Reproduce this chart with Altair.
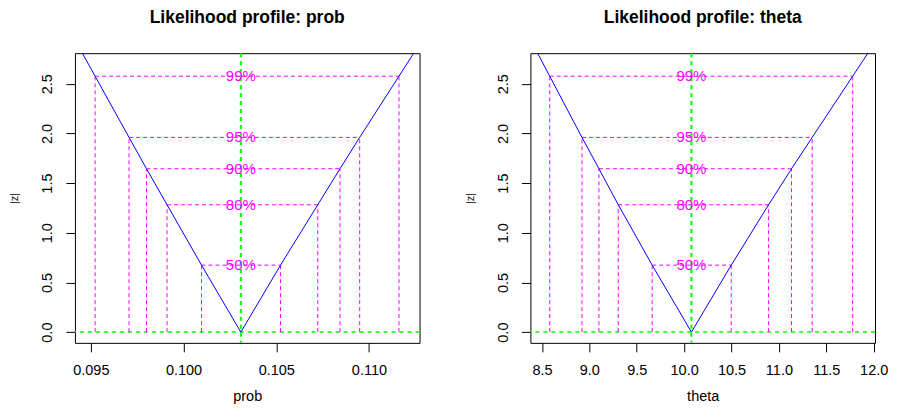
import altair as alt
import pandas as pd

# Confidence levels and their |z| values
levels = ["50%", "80%", "90%", "95%", "99%"]
z_levels = [0.674, 1.282, 1.645, 1.960, 2.576]

# prob panel
prob_mle = 0.10309
prob_lower = [0.10097, 0.09911, 0.09800, 0.09706, 0.09523]
prob_upper = [0.10523, 0.10724, 0.10844, 0.10950, 0.11162]
prob_profile_x = [0.09427, 0.09523, 0.09706, 0.09800, 0.09911, 0.10097, 0.10309,
                  0.10523, 0.10724, 0.10844, 0.10950, 0.11162, 0.11273]
prob_profile_z = [2.9, 2.576, 1.960, 1.645, 1.282, 0.674, 0.0,
                  0.674, 1.282, 1.645, 1.960, 2.576, 2.9]
prob_domain = [0.09414, 0.11273]
prob_ticks = [0.095, 0.100, 0.105, 0.110]

# theta panel
theta_mle = 10.077
theta_lower = [9.663, 9.305, 9.101, 8.922, 8.582]
theta_upper = [10.497, 10.891, 11.133, 11.351, 11.778]
theta_profile_x = [8.403, 8.582, 8.922, 9.101, 9.305, 9.663, 10.077,
                   10.497, 10.891, 11.133, 11.351, 11.778, 12.003]
theta_profile_z = [2.9, 2.576, 1.960, 1.645, 1.282, 0.674, 0.0,
                   0.674, 1.282, 1.645, 1.960, 2.576, 2.9]
theta_domain = [8.378, 12.014]
theta_ticks = [8.5, 9.0, 9.5, 10.0, 10.5, 11.0, 11.5, 12.0]

y_domain = [-0.108, 2.808]
y_ticks = [0.0, 0.5, 1.0, 1.5, 2.0, 2.5]

FONT = "Liberation Sans"
W, H = 345, 290
BLUE, MAGENTA, GREEN = "#0000FF", "#FF00FF", "#00FF00"


def panel(name, mle, lower, upper, px, pz, xdom, xticks, xfmt):
    prof = pd.DataFrame({"x": px, "z": pz, "i": list(range(len(px)))})
    ci = pd.DataFrame({"lo": lower, "hi": upper, "z": z_levels, "lab": levels,
                       "mle": [mle] * len(levels), "zero": [0.0] * len(levels)})
    verts = pd.DataFrame({"x": lower + upper, "z": z_levels + z_levels,
                          "zero": [0.0] * (2 * len(levels))})

    xs = alt.Scale(domain=xdom, nice=False, zero=False)
    ys = alt.Scale(domain=y_domain, nice=False, zero=False)
    xaxis = alt.Axis(values=xticks, format=xfmt, titleX=W / 2, titleY=54,
                     titleBaseline="middle", titleAlign="center",
                     labelBaseline="middle", labelPadding=19)
    yaxis = alt.Axis(values=y_ticks, format=".1f", labelAngle=270,
                     labelAlign="center", labelBaseline="middle",
                     labelPadding=18, titleX=-60, titleY=H / 2,
                     titleAngle=270, titleAlign="center",
                     titleBaseline="middle", titleFontSize=11)

    def X(f):
        return alt.X(f, scale=xs, axis=xaxis, title=name)

    def Y(f):
        return alt.Y(f, scale=ys, axis=yaxis, title="|z|")

    line = alt.Chart(prof).mark_line(color=BLUE, strokeWidth=1, clip=True).encode(
        x=X("x:Q"), y=Y("z:Q"), order="i:Q")
    hz = alt.Chart(ci).mark_rule(color=MAGENTA, strokeWidth=1, strokeDash=[4, 3]).encode(
        x=X("lo:Q"), x2="hi:Q", y=Y("z:Q"))
    vt = alt.Chart(verts).mark_rule(color=MAGENTA, strokeWidth=1, strokeDash=[4, 3]).encode(
        x=X("x:Q"), y=Y("zero:Q"), y2="z:Q")
    g0 = alt.Chart(pd.DataFrame({"y": [0.0]})).mark_rule(
        color=GREEN, strokeWidth=1.5, strokeDash=[4, 4]).encode(y=Y("y:Q"))
    gv = alt.Chart(pd.DataFrame({"x": [mle]})).mark_rule(
        color=GREEN, strokeWidth=2, strokeDash=[4, 4]).encode(x=X("x:Q"))
    txt = alt.Chart(ci).mark_text(color=MAGENTA, fontSize=15, font=FONT,
                                  align="center", baseline="middle").encode(
        x=X("mle:Q"), y=Y("z:Q"), text="lab:N")

    return alt.layer(gv, g0, vt, hz, line, txt).properties(
        width=W, height=H,
        title=alt.TitleParams(f"Likelihood profile: {name}", anchor="middle",
                              fontSize=17.5, fontWeight="bold", font=FONT,
                              baseline="middle", offset=17, color="black"),
    )


left = panel("prob", prob_mle, prob_lower, prob_upper, prob_profile_x,
             prob_profile_z, prob_domain, prob_ticks, ".3f")
right = panel("theta", theta_mle, theta_lower, theta_upper, theta_profile_x,
              theta_profile_z, theta_domain, theta_ticks, ".1f")

chart = alt.hconcat(left, right, spacing=111, bounds="flush").properties(
    padding={"left": 0, "top": 0, "right": 0, "bottom": 0},
    background="white",
).configure_view(stroke="black", strokeWidth=1).configure_axis(
    domain=False, grid=False, tickColor="black", tickSize=9, tickWidth=1,
    labelColor="black", labelFont=FONT, labelFontSize=14.5,
    titleColor="black", titleFont=FONT, titleFontSize=14.5, titleFontWeight="normal",
)

chart.save("out.html", embed_options={"renderer": "svg", "actions": False})
